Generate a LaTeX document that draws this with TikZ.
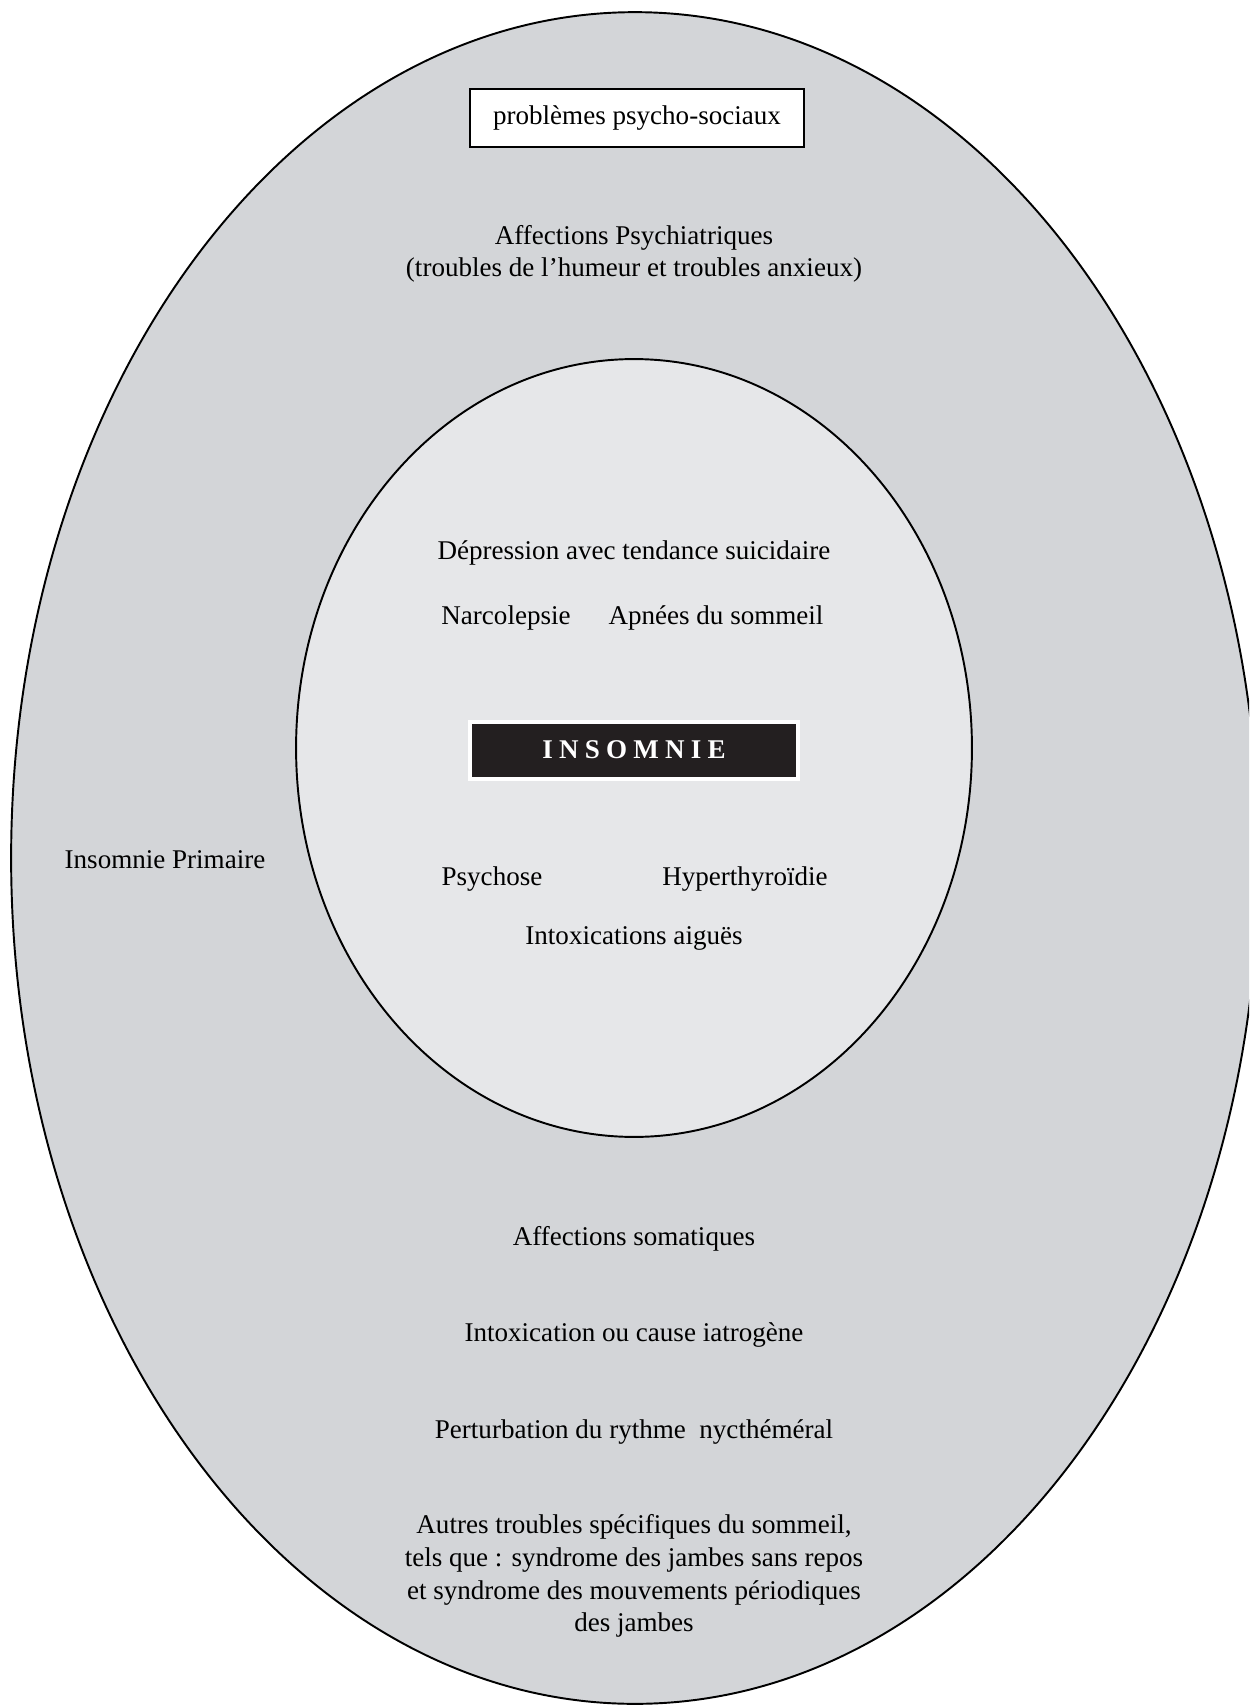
\documentclass[tikz,border=0pt]{standalone}
\usepackage{fontspec}
\setmainfont{Liberation Serif}
\usetikzlibrary{positioning}

\definecolor{outergray}{RGB}{211,213,216}
\definecolor{innergray}{RGB}{230,231,233}
\definecolor{boxblack}{RGB}{35,31,32}

\begin{document}
\begin{tikzpicture}[x=0.02cm,y=-0.02cm]
                \tikzset{lbl/.style={font=\fontsize{15.4}{18.6}\selectfont, inner sep=0pt, align=center},
                 psybox/.style={lbl, draw, line width=0.7pt, fill=white,
                 minimum width=6.68cm, minimum height=1.16cm},
                 insombox/.style={draw=white, line width=0.08cm, fill=boxblack, text=white,
                 minimum width=6.58cm, minimum height=1.14cm, inner sep=0pt,
                 font=\fontsize{15.4}{18.6}\selectfont\bfseries\addfontfeature{LetterSpace=23}}}

                \clip (0,0) rectangle (1249,1706);
                \fill[white] (0,0) rectangle (1249,1706);

                \draw[fill=outergray, line width=1.1pt] (635,858) ellipse [x radius=12.48cm, y radius=16.92cm];
                \draw[fill=innergray, line width=1.1pt] (634,748) ellipse [x radius=6.76cm, y radius=7.78cm];

                \node[psybox] (psysoc) at (637,118) {problèmes psycho-sociaux};
                \node[lbl] (psychiat) at (634,254) {Affections Psychiatriques\\(troubles de l’humeur et troubles anxieux)};

                \node[lbl] (depress) at (634,553) {Dépression avec tendance suicidaire};
                \node[lbl] (narco) at (506,618) {Narcolepsie};
                \node[lbl] (apnees) at (716,618) {Apnées du sommeil};

                \node[insombox] (insom) at (634,750) {INSOMNIE};

                \node[lbl] (primaire) at (165,860) {Insomnie Primaire};
                \node[lbl] (psychose) at (492,879) {Psychose};
                \node[lbl] (hyperth) at (745,879) {Hyperthyroïdie};
                \node[lbl] (intoxa) at (634,938) {Intoxications aiguës};

                \node[lbl] (somat) at (634,1239) {Affections somatiques};
                \node[lbl] (iatro) at (634,1335) {Intoxication ou cause iatrogène};
                \node[lbl] (rythme) at (634,1432) {Perturbation du rythme \ nycthéméral};
                \node[lbl] (autres) at (634,1576) {Autres troubles spécifiques du sommeil,\\tels que : syndrome des jambes sans repos\\et syndrome des mouvements périodiques\\des jambes};
            \end{tikzpicture}
\end{document}
